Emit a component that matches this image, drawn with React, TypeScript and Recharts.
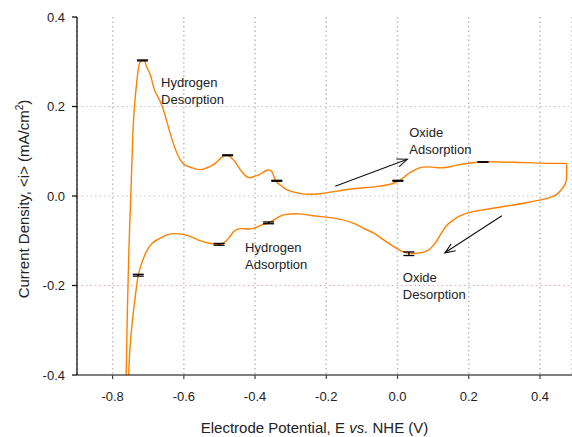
import React from "react";
import {
  ComposedChart,
  Line,
  Scatter,
  ErrorBar,
  XAxis,
  YAxis,
  CartesianGrid,
  ReferenceLine,
  ReferenceDot,
  Label,
} from "recharts";

// anodic sweep (left to right, upper branch), potential in V and current in mA/cm2
const anodicV = [
  -0.764, -0.762, -0.759, -0.754, -0.749, -0.743, -0.737, -0.728, -0.722, -0.716,
  -0.709, -0.705, -0.693, -0.681, -0.661, -0.633, -0.604, -0.576, -0.552, -0.524,
  -0.51, -0.491, -0.477, -0.466, -0.454, -0.435, -0.416, -0.402, -0.388, -0.365,
  -0.351, -0.341, -0.323, -0.313, -0.276, -0.219, -0.135, -0.06, -0.013, 0.006,
  0.02, 0.034, 0.048, 0.062, 0.081, 0.104, 0.127, 0.156, 0.174, 0.231, 0.287,
  0.34, 0.381, 0.43, 0.46, 0.472, 0.475,
];
const anodicI = [
  -0.432, -0.403, -0.276, -0.112, -0.002, 0.141, 0.216, 0.283, 0.299, 0.303,
  0.3, 0.29, 0.268, 0.234, 0.201, 0.126, 0.074, 0.063, 0.059, 0.067,
  0.074, 0.088, 0.091, 0.085, 0.074, 0.052, 0.041, 0.044, 0.048, 0.058,
  0.052, 0.033, 0.021, 0.015, 0.006, 0.005, 0.015, 0.021, 0.028, 0.035,
  0.043, 0.052, 0.058, 0.063, 0.065, 0.064, 0.063, 0.067, 0.07, 0.076, 0.076,
  0.075, 0.074, 0.073, 0.073, 0.073, 0.07,
];

// cathodic sweep (right to left, lower branch)
const cathodicV = [
  0.475, 0.475, 0.474, 0.47, 0.461, 0.446, 0.418, 0.362, 0.287, 0.212, 0.174, 0.156,
  0.137, 0.118, 0.099, 0.081, 0.053, 0.024, 0.006, -0.013, -0.041, -0.069,
  -0.098, -0.126, -0.182, -0.238, -0.276, -0.313, -0.332, -0.362, -0.38, -0.408,
  -0.44, -0.459, -0.473, -0.489, -0.501, -0.524, -0.557, -0.591, -0.623, -0.647,
  -0.67, -0.688, -0.707, -0.721, -0.728, -0.735, -0.745, -0.752, -0.755, -0.757,
];
const cathodicI = [
  0.055, 0.042, 0.035, 0.026, 0.015, 0.003, -0.006, -0.015, -0.025, -0.035, -0.045, -0.054,
  -0.067, -0.09, -0.112, -0.123, -0.128, -0.127, -0.121, -0.112, -0.097, -0.082,
  -0.071, -0.06, -0.049, -0.044, -0.04, -0.041, -0.046, -0.06, -0.064, -0.073,
  -0.073, -0.079, -0.093, -0.106, -0.108, -0.106, -0.099, -0.088, -0.084, -0.087,
  -0.096, -0.105, -0.127, -0.157, -0.177, -0.216, -0.283, -0.35, -0.403, -0.432,
];

// peak currents with their spread
const peakV = [-0.716, -0.477, -0.339, 0.001, 0.24, 0.032, -0.362, -0.501, -0.728];
const peakI = [0.303, 0.091, 0.034, 0.034, 0.076, -0.129, -0.06, -0.108, -0.177];
const peakErr = [0.001, 0.001, 0.001, 0.001, 0.0005, 0.004, 0.002, 0.002, 0.002];

const xTicks = [-0.8, -0.6, -0.4, -0.2, 0, 0.2, 0.4];
const yTicks = [-0.4, -0.2, 0, 0.2, 0.4];

const loop = [
  ...anodicV.map((v, k) => ({ v, i: anodicI[k] })),
  ...cathodicV.map((v, k) => ({ v, i: cathodicI[k] })),
];
const peaks = peakV.map((v, k) => ({ v, i: peakI[k], err: peakErr[k] }));

const FONT = "'Liberation Sans', Arial, sans-serif";
const ORANGE = "#ff8000";

const notes = [
  { v: -0.664, i: 0.2425, lines: ["Hydrogen", "Desorption"] },
  { v: 0.033, i: 0.131, lines: ["Oxide", "Adsorption"] },
  { v: -0.428, i: -0.126, lines: ["Hydrogen", "Adsorption"] },
  { v: 0.015, i: -0.193, lines: ["Oxide", "Desorption"] },
];

const arrows = [
  { from: { x: -0.175, y: 0.022 }, to: { x: 0.0276, y: 0.082 } },
  { from: { x: 0.293, y: -0.044 }, to: { x: 0.133, y: -0.127 } },
];

function arrowShape(p: any) {
  const { x1, y1, x2, y2 } = p;
  const a = Math.atan2(y2 - y1, x2 - x1);
  const len = 11;
  const spread = 0.38;
  const head = [a - spread, a + spread]
    .map((t) => `${x2 - len * Math.cos(t)},${y2 - len * Math.sin(t)}`);
  return (
    <g>
      <line x1={x1} y1={y1} x2={x2} y2={y2} stroke="#111" strokeWidth={1.1} />
      <polyline
        points={`${head[0]} ${x2},${y2} ${head[1]}`}
        fill="none"
        stroke="#111"
        strokeWidth={1.1}
      />
    </g>
  );
}

function noteShape(lines: string[]) {
  return (p: any) => (
    <text x={p.cx} y={p.cy} fontFamily={FONT} fontSize={13} fill="#222">
      {lines.map((l, k) => (
        <tspan key={k} x={p.cx} dy={k === 0 ? 0 : 17}>
          {l}
        </tspan>
      ))}
    </text>
  );
}

const XTitle = (p: any) => {
  const vb = p.viewBox;
  return (
    <text
      x={vb.x + vb.width / 2 - 10}
      y={vb.y + 58}
      textAnchor="middle"
      fontFamily={FONT}
      fontSize={15}
      fill="#222"
    >
      Electrode Potential, E <tspan fontStyle="italic">vs.</tspan> NHE (V)
    </text>
  );
};

const YTitle = (p: any) => {
  const vb = p.viewBox;
  const cx = vb.x + 28.5;
  const cy = vb.y + vb.height / 2 + 3;
  return (
    <text
      transform={`translate(${cx},${cy}) rotate(-90)`}
      textAnchor="middle"
      fontFamily={FONT}
      fontSize={15}
      fill="#222"
    >
      Current Density, &lt;i&gt; (mA/cm
      <tspan dy={-6} fontSize={10}>
        2
      </tspan>
      <tspan dy={6}>)</tspan>
    </text>
  );
};

export default function App() {
  return (
    <div style={{ position: "absolute", left: 0, top: 0, background: "#fff" }}>
      <ComposedChart
        width={572}
        height={437}
        margin={{ top: 17, right: 0, bottom: 0, left: 0 }}
      >
        <CartesianGrid
          horizontal={false}
          stroke="#bdbdbd"
          strokeWidth={1.5}
          strokeDasharray="1.5 3"
        />
        <ReferenceLine y={0.2} stroke="#d4bcc4" strokeWidth={1.2} strokeDasharray="1.5 3" />
        <ReferenceLine y={0} stroke="#d4bcc4" strokeWidth={1.2} strokeDasharray="1.5 3" />
        <ReferenceLine y={-0.2} stroke="#f2a2b8" strokeWidth={1.2} strokeDasharray="1.5 3" />
        <XAxis
          type="number"
          dataKey="v"
          domain={[-0.9, 0.49]}
          allowDataOverflow
          ticks={xTicks}
          tickFormatter={(t: number) => t.toFixed(1)}
          height={62}
          tickSize={4}
          tickMargin={13}
          axisLine={{ stroke: "#000", strokeWidth: 1.2 }}
          tickLine={{ stroke: "#444", strokeWidth: 1.2 }}
          tick={{ fontFamily: FONT, fontSize: 13, fill: "#222" }}
        >
          <Label content={XTitle} />
        </XAxis>
        <YAxis
          type="number"
          domain={[-0.4, 0.4]}
          allowDataOverflow
          ticks={yTicks}
          tickFormatter={(t: number) => t.toFixed(1)}
          width={77}
          tickSize={5}
          tickMargin={7}
          axisLine={{ stroke: "#000", strokeWidth: 1.2 }}
          tickLine={{ stroke: "#000", strokeWidth: 1.2 }}
          tick={{ fontFamily: FONT, fontSize: 13, fill: "#222" }}
        >
          <Label content={YTitle} />
        </YAxis>
        <Line
          data={loop}
          dataKey="i"
          type="natural"
          stroke={ORANGE}
          strokeWidth={1.4}
          dot={false}
          isAnimationActive={false}
        />
        <Scatter
          data={peaks}
          dataKey="i"
          shape={() => <g />}
          isAnimationActive={false}
        >
          <ErrorBar
            dataKey="err"
            direction="y"
            width={5.5}
            stroke="#000"
            strokeWidth={1.3}
            isAnimationActive={false}
          />
        </Scatter>
        {arrows.map((a, k) => (
          <ReferenceLine
            key={`arrow-${k}`}
            segment={[a.from, a.to]}
            ifOverflow="visible"
            shape={arrowShape}
          />
        ))}
        {notes.map((n, k) => (
          <ReferenceDot
            key={`note-${k}`}
            x={n.v}
            y={n.i}
            r={0}
            ifOverflow="visible"
            shape={noteShape(n.lines)}
          />
        ))}
      </ComposedChart>
    </div>
  );
}
